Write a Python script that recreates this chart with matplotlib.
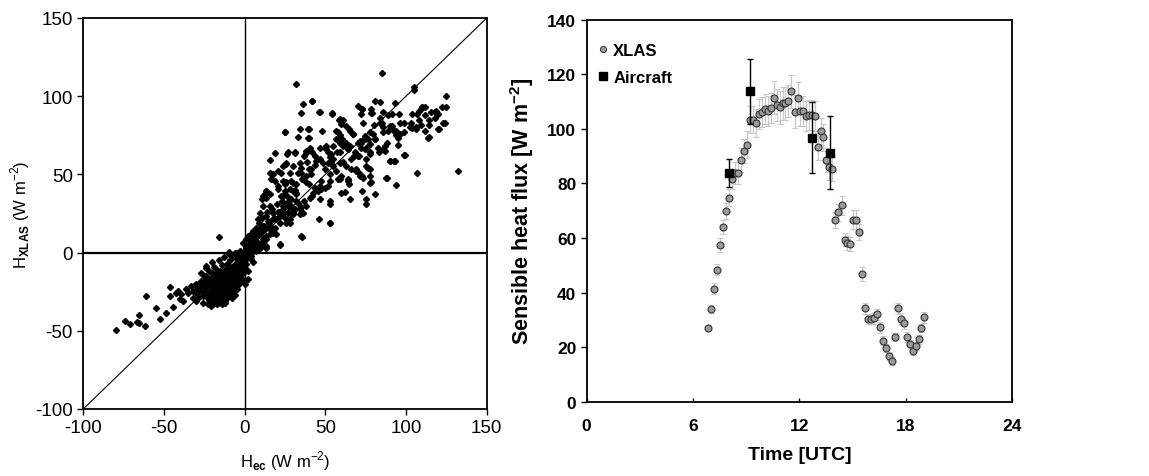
"""two panels: H_XLAS vs H_ec scatter (left), diurnal sensible heat flux (right)."""
import numpy as np
import matplotlib
matplotlib.use("Agg")
import matplotlib.pyplot as plt

plt.rcParams["font.family"] = ["Liberation Sans", "DejaVu Sans"]
plt.rcParams["mathtext.fontset"] = "custom"
plt.rcParams["mathtext.rm"] = "Liberation Sans"
plt.rcParams["mathtext.bf"] = "Liberation Sans:bold"
plt.rcParams["axes.unicode_minus"] = False

# ---- left panel: (H_ec, H_XLAS) pairs, by cloud region
upper_sparse = [
    (32, 108), (85, 115), (105, 106), (105, 104), (125, 100), (132, 52), (107, 51), (42, 97), (36, 95), (80.5, 97),
    (84, 96.6), (70, 94), (93, 95.5), (35, 89), (46, 90), (54, 88.5), (58.5, 85), (61, 85), (73, 92), (78.5, 89.5),
    (72, 88.5), (86, 90), (89, 88), (95.5, 88.5), (104, 88.5), (108, 90.5), (110, 93), (111.5, 93), (118.5, 90.5), (120, 88.5),
    (122.5, 93), (124.5, 93), (111.5, 88), (114, 85), (102.7, 80.5), (106, 80), (109, 81.5), (114, 81.5), (114, 74), (120, 79),
    (124, 83), (99, 77), (99, 62.5), (94, 75), (95, 73.5), (91, 81), (92.5, 78), (90, 58.5), (93, 58.5), (88, 47.5),
    (93.5, 43), (80.5, 37.5), (75, 34), (73, 39.5), (75.5, 31), (65.5, 34.5), (62, 39), (60, 38), (58, 47), (64, 46),
    (46, 21.3), (53, 19), (35.5, 10), (21.7, 4.7),
]
main_band = [
    (25, 77), (26.5, 63), (31.4, 63.5), (39, 79), (40, 73), (48, 78), (56.5, 78), (58, 77), (59, 75), (60.5, 72.5),
    (64.5, 79), (67, 75.7), (70, 70), (72, 70), (74.4, 72.5), (76.5, 68), (77.5, 77), (80, 81.5), (81, 72.5), (82.6, 67),
    (85.7, 77), (86.8, 68), (83, 64), (77.5, 64), (71, 62), (75.5, 59.7), (76.5, 54), (68, 62), (66, 59.7), (69, 52),
    (71, 51), (73, 49), (77.5, 49), (78.5, 45), (65, 68), (63, 70), (55, 68), (57, 64), (51.5, 64), (52.7, 61),
    (53.7, 58.6), (55, 55.4), (56.4, 52), (48.5, 57.5), (49.6, 53.3), (44.4, 58.6), (43.4, 56.3), (38, 65), (37, 62), (40, 53.3),
    (41.3, 50), (34, 57.5), (35, 54.3), (33, 51), (30, 55.4), (28, 51), (25.8, 57.5), (23.8, 55.4), (17.5, 50), (16.5, 47),
    (20.7, 52.2), (30, 44.7), (32, 43.7), (35.7, 47), (38, 45), (40, 43.7), (43.4, 41.6), (45.5, 39.4), (42.4, 38.4), (40.3, 35.2),
    (47.5, 40.5), (49.6, 41.6), (51.7, 42.6), (46.5, 34), (52.7, 33), (52.7, 31), (37, 33), (35, 29), (33, 32), (31, 27.7),
    (30, 24.5), (28, 34), (26, 32), (24.8, 39.4), (22.7, 36), (13.4, 39.4), (12.4, 37.3), (13.4, 35.2), (15.5, 29.8), (17.6, 25.6),
    (19.6, 21.3), (21.7, 23.4), (23.8, 25.6), (27, 25.6), (29, 28.8), (34, 24.5), (36, 25.6), (32, 38.4), (30, 39.4), (28, 40.5),
    (23.8, 45.8), (25.8, 45.2), (20.7, 42.6), (11.4, 29.8), (9.3, 25.6), (8.3, 21.3), (13.4, 23.4), (14.5, 20.3), (11.4, 17), (9.3, 14.9),
    (7.2, 13.9), (6.2, 12.8), (4.1, 11.7), (2.1, 10.7), (16, 14.9), (17.6, 12.8), (19.6, 11.7), (13.4, 10.7), (11.4, 8.5), (5.2, 7.5),
    (3.1, 5.3), (1, 4.3), (7.2, 4.3), (9.3, 3.2), (13.4, 3.2), (1, 8.5), (-1, 6.4), (0.6, 4.3), (1.4, 2.1), (2.7, 0),
    (4, -2),
]
band_extra = [
    (25.2, 77.4), (34, 79), (39.7, 79), (33, 74), (39, 73), (19, 63.5), (15.5, 59), (26.7, 64), (31, 64), (25.8, 56.5),
    (22.7, 51), (15.5, 50.7), (18.6, 45.8), (13.4, 39.4), (11.2, 36), (10.5, 34), (15.5, 37.3), (20.5, 40.5), (24.8, 43.7), (29, 45.8),
    (35, 51), (38.8, 58), (42, 64), (46.5, 66.7), (50.6, 68.2), (53.7, 57.7), (60.7, 57.7), (58.9, 46.9), (52.7, 45.8), (46.5, 42.6),
    (42, 36.2), (38.2, 29.8), (34, 27.7), (29.8, 25.8), (27.9, 21.3), (25.8, 19.2), (23.6, 29.8), (20.5, 25.8), (17.4, 21.3), (15.5, 17),
    (12.4, 14.9), (9.3, 11.7), (5, 9.8), (52.7, 19.2), (35, 10.6), (21.7, 5.3), (13.4, 4.3), (27.9, 34), (32, 37.3), (29, 29.8),
    (23.6, 36.2), (57.7, 72.5), (63.8, 66), (58.9, 64),
    (73, 91.6), (78, 91.6), (79, 89), (91, 88.4), (84, 86), (85, 83), (110, 93), (109, 91.6), (115.7, 89.7), (118, 90),
    (106.6, 88.4), (107.8, 85), (118, 86), (123, 83), (103, 83), (104, 79.5), (106, 79.3), (111.5, 77.8), (120.4, 78.8), (113.6, 73.5),
    (96, 83), (98.5, 83), (94, 77.8), (96, 75.6), (89.9, 81), (88.8, 77.8), (88, 70.3), (95, 68.6), (85.7, 66), (86.8, 65),
    (99.3, 62.2), (89.9, 58.6), (92.5, 58.6), (87.8, 47.7), (83.7, 83), (85.7, 80), (79.5, 75.6), (80.6, 72.4), (76.4, 72.4), (77.9, 69.2),
    (74.4, 74.6), (73.3, 83), (71.3, 71.4), (72.3, 67.1), (67.1, 75.6), (65.5, 77.8), (63, 81), (59.9, 82), (58.9, 85.2), (60.5, 84),
    (54.1, 89), (46.5, 90.2), (41.7, 97), (56.8, 72.4), (58.9, 70.3), (61, 68.2), (64, 66), (68.2, 64), (70.2, 61.8), (74.4, 66),
    (77.5, 62.8), (50.6, 66), (53.7, 62.8), (54.7, 59.7), (51.6, 57.5), (46.5, 59.7), (43.4, 61.8), (40.3, 67.1), (38.2, 63.9), (58.9, 57.5),
    (63, 55.4), (66.1, 53.3), (69.2, 53.3), (75.4, 55.4), (77.5, 53.3), (71.3, 49), (73.3, 48), (59.9, 49), (64, 46.9), (52.7, 50),
    (47.5, 45.8), (41.3, 53.3), (38.2, 49), (77.9, 44.8), (64.6, 43.7),
]
near_origin = [
    (3, 8), (5, 14), (6, 9), (7, 16), (8, 11), (9, 19), (10, 6), (10, 13), (11, 22), (12, 17),
    (13, 9), (14, 26), (15, 19), (16, 12), (17, 28), (18, 22), (19, 16), (20, 31), (21, 26), (22, 19),
    (23, 33), (24, 28), (25, 22), (26, 36), (27, 30), (28, 19), (29, 34), (30, 28), (31, 40), (32, 33),
    (1, 0), (2, 5), (3, -2), (4, 3), (6, 4), (7, 1), (8, 6), (5, -6), (9, 2), (12, 5),
]
lower_sparse = [
    (-79.5, -49.7), (-74.4, -43.7), (-70.9, -45.8), (-66.7, -44.3), (-65.7, -40), (-65.5, -45.2), (-61.6, -46.9), (-61, -27.7), (-54.8, -35.2), (-52.5, -42.2),
    (-49, -38.4), (-46, -21.7), (-46, -28), (-44.4, -34.5), (-42.8, -25.6), (-41.3, -24.5), (-39.3, -26.6), (-40.3, -29.4), (-38.2, -30.9), (-36.6, -23),
    (-35, -26), (-33, -21.3), (-32, -24.5), (-30, -20.3), (-29, -23.4), (-30, -30.9), (-29, -28.8), (-27.9, -19.2), (-25.8, -22.4), (-24.8, -18.1),
    (-23.8, -15), (-23.8, -8.5), (-21.7, -32), (-19.6, -33), (-16.5, -32), (-14.5, -30.9), (-12.4, -32), (-16, 10.2), (-10, 0.4), (-7, -2),
    (-5, 0),
]
night_blob = [
    (-28, -22), (-27, -18), (-26, -25), (-25, -20), (-25, -15), (-24, -28), (-24, -22), (-23, -17), (-23, -26), (-22, -12),
    (-22, -20), (-22, -30), (-21, -24), (-21, -16), (-20, -19), (-20, -27), (-20, -13), (-19, -22), (-19, -31), (-19, -9),
    (-18, -17), (-18, -25), (-18, -29), (-18, -14), (-17, -20), (-17, -23), (-17, -11), (-17, -33), (-16, -27), (-16, -18),
    (-16, -15), (-16, -21), (-15, -24), (-15, -30), (-15, -12), (-15, -19), (-14, -16), (-14, -22), (-14, -26), (-14, -33),
    (-14, -8), (-13, -20), (-13, -14), (-13, -28), (-13, -18), (-12, -24), (-12, -11), (-12, -31), (-12, -16), (-12, -21),
    (-11, -19), (-11, -26), (-11, -13), (-11, -7), (-11, -29), (-10, -17), (-10, -23), (-10, -10), (-10, -15), (-10, -27),
    (-9, -20), (-9, -12), (-9, -25), (-9, -5), (-9, -18), (-8, -14), (-8, -22), (-8, -9), (-8, -29), (-8, -16),
    (-7, -11), (-7, -19), (-7, -24), (-7, -3), (-7, -13), (-6, -17), (-6, -8), (-6, -21), (-6, -14), (-6, -27),
    (-5, -10), (-5, -15), (-5, -19), (-5, -4), (-5, -23), (-4, -12), (-4, -7), (-4, -17), (-4, -2), (-4, -21),
    (-3, -9), (-3, -14), (-3, -5), (-3, -19), (-2, -11), (-2, -3), (-2, -16), (-2, -7), (-1, -8), (-1, -13),
    (-1, -2), (-1, -18), (0, -5), (0, -10), (0, 1), (1, -3), (1, -7), (1, 3), (2, -1), (2, -12),
    (-30, -26), (-31, -21), (-32, -29), (-26, -32), (-23, -33), (-21, -34), (-27, -13), (-24, -10), (-20, -6), (-16, -5),
    (-13, -3), (-10, -1), (-8, -2), (-6, 0), (-3, 1), (3, 2), (4, -4), (5, 1), (0, -20), (2, -17),
    (-29, -25), (-27, -21), (-26, -28), (-25, -24), (-24, -18), (-23, -21), (-22, -25), (-21, -28), (-21, -20), (-20, -23),
    (-19, -26), (-19, -15), (-18, -21), (-18, -32), (-17, -26), (-17, -16), (-16, -24), (-16, -30), (-15, -16), (-15, -27),
    (-14, -19), (-14, -29), (-13, -23), (-13, -25), (-12, -27), (-12, -19), (-11, -22), (-11, -16), (-10, -20), (-10, -13),
    (-9, -22), (-9, -15), (-8, -19), (-8, -25), (-7, -16), (-7, -21), (-6, -11), (-5, -13), (-4, -15), (-3, -11),
]

_all_pts = np.array(upper_sparse + main_band + band_extra + near_origin + lower_sparse + night_blob)
H_EC = _all_pts[:, 0]
H_XLAS = _all_pts[:, 1]

# ---- right panel: XLAS 10-min fluxes and aircraft legs
XLAS_TIME = [
    6.86, 7.03, 7.20, 7.37, 7.54, 7.69, 7.86, 8.03, 8.22, 8.37,
    8.54, 8.71, 8.86, 9.03, 9.20, 9.37, 9.54, 9.70, 9.87, 10.04,
    10.21, 10.38, 10.55, 10.72, 10.89, 11.06, 11.21, 11.38, 11.55, 11.72,
    11.89, 12.04, 12.21, 12.38, 12.53, 12.70, 12.86, 13.03, 13.20, 13.35,
    13.52, 13.69, 13.86, 14.03, 14.20, 14.37, 14.54, 14.69, 14.86, 15.03,
    15.20, 15.37, 15.54, 15.71, 15.87, 16.04, 16.21, 16.38, 16.55, 16.72,
    16.89, 17.06, 17.23, 17.40, 17.55, 17.72, 17.89, 18.06, 18.23, 18.40,
    18.56, 18.73, 18.88, 19.05,
]
XLAS_FLUX = [
    27.0, 34.0, 41.4, 48.4, 57.4, 64.1, 69.9, 74.8, 81.6, 83.8,
    83.8, 88.6, 91.9, 94.2, 103.3, 103.3, 102.1, 105.3, 106.0, 107.3,
    106.4, 107.7, 111.4, 108.7, 107.9, 109.3, 109.3, 110.2, 113.7, 106.3,
    111.3, 106.5, 106.5, 104.6, 105.2, 105.2, 104.6, 93.5, 99.1, 96.9,
    88.6, 85.9, 85.3, 66.6, 69.4, 72.0, 59.4, 58.1, 57.8, 66.7,
    66.7, 62.1, 46.7, 34.3, 30.3, 30.3, 30.5, 32.1, 27.2, 22.4,
    19.7, 16.7, 14.8, 23.6, 34.2, 30.4, 28.7, 23.7, 21.0, 18.6,
    20.3, 22.8, 27.0, 30.9,
]
XLAS_ERR = [
    1.0, 1.5, 2.0, 2.0, 2.5, 2.5, 3.0, 3.0, 3.5, 4.0,
    4.0, 4.5, 4.5, 5.0, 5.0, 5.0, 5.0, 5.5, 5.5, 5.5,
    5.5, 5.5, 6.0, 6.0, 6.0, 6.0, 6.0, 6.0, 6.0, 6.0,
    6.0, 5.5, 5.5, 5.5, 5.5, 5.5, 5.5, 5.0, 5.0, 5.0,
    4.5, 4.5, 4.5, 3.0, 3.0, 3.5, 2.5, 2.5, 2.5, 3.5,
    3.5, 3.0, 2.5, 2.0, 2.0, 2.0, 2.0, 2.0, 2.0, 1.5,
    1.5, 1.5, 1.5, 1.5, 2.0, 2.0, 2.0, 2.0, 1.5, 1.5,
    1.5, 1.5, 1.5, 2.0,
]
AIR_TIME = [8.03, 9.20, 12.70, 13.71]
AIR_FLUX = [83.8, 113.7, 96.8, 91.3]
AIR_ERR = [5.2, 12.0, 13.0, 13.3]


def plotScatter(ax):
    ax.plot(H_EC, H_XLAS, linestyle="none", marker="D", markersize=3.1,
            color="black", zorder=3)
    ax.plot([-100, 150], [-100, 150], color="black", linewidth=0.8, zorder=2)
    ax.axhline(0, color="black", linewidth=1.6, zorder=2)
    ax.axvline(0, color="black", linewidth=1.0, zorder=2)

    ax.set_xlim(-100, 150)
    ax.set_ylim(-100, 150)
    ax.set_xticks(np.arange(-100, 151, 50))
    ax.set_yticks(np.arange(-100, 151, 50))
    ax.tick_params(direction="out", length=4, width=1, labelsize=13.5)
    for sp in ax.spines.values():
        sp.set_linewidth(1.3)
    ax.set_xlabel(r"H$_{\mathbf{ec}}$ (W m$^{-2}$)", fontsize=12, labelpad=9)
    ax.set_ylabel(r"H$_{\mathbf{XLAS}}$ (W m$^{-2}$)", fontsize=12, labelpad=2)


def plotDiurnal(ax):
    ax.errorbar(XLAS_TIME, XLAS_FLUX, yerr=XLAS_ERR, fmt="o", markersize=5,
                markerfacecolor="#9a9a9a", markeredgecolor="#333333",
                markeredgewidth=0.8, ecolor="#c8c8c8", elinewidth=0.9,
                capsize=2.5, capthick=0.9, zorder=3, label="XLAS")
    ax.errorbar(AIR_TIME, AIR_FLUX, yerr=AIR_ERR, fmt="s", markersize=6,
                color="black", ecolor="black", elinewidth=1.0,
                capsize=2.5, capthick=1.0, zorder=4, label="Aircraft")

    ax.set_xlim(0, 24)
    ax.set_ylim(0, 140)
    ax.set_xticks([0, 6, 12, 18, 24])
    ax.set_yticks(np.arange(0, 141, 20))
    ax.tick_params(axis="y", direction="out", length=4, width=1)
    ax.tick_params(axis="x", direction="in", length=3, width=1, pad=12)
    for lab in ax.get_xticklabels() + ax.get_yticklabels():
        lab.set_fontweight("bold")
        lab.set_fontsize(12.5)
    for sp in ax.spines.values():
        sp.set_linewidth(1.3)
    ax.set_xlabel("Time [UTC]", fontsize=14, fontweight="bold", labelpad=9)
    ax.set_ylabel(r"Sensible heat flux [W m$^{\mathbf{-2}}$]", fontsize=15.5,
                  fontweight="bold", labelpad=8)

    handles = [
        plt.Line2D([], [], linestyle="none", marker="o", markersize=4.5,
                   markerfacecolor="#9a9a9a", markeredgecolor="#333333",
                   markeredgewidth=0.7),
        plt.Line2D([], [], linestyle="none", marker="s", markersize=5.5,
                   color="black"),
    ]
    ax.legend(handles, ["XLAS", "Aircraft"], loc="upper left",
              bbox_to_anchor=(0.0, 0.97), frameon=False,
              prop={"weight": "bold", "size": 12}, handlelength=0.6,
              handletextpad=0.3, labelspacing=0.75, borderaxespad=0.3)


def main():
    fig = plt.figure(figsize=(11.49, 4.77), dpi=100)
    ax_l = fig.add_axes([0.0725, 0.1405, 0.3511, 0.8197])
    ax_r = fig.add_axes([0.5106, 0.1558, 0.3704, 0.8008])
    plotScatter(ax_l)
    plotDiurnal(ax_r)
    fig.savefig("out.png", dpi=100)
    plt.close(fig)


if __name__ == "__main__":
    main()
